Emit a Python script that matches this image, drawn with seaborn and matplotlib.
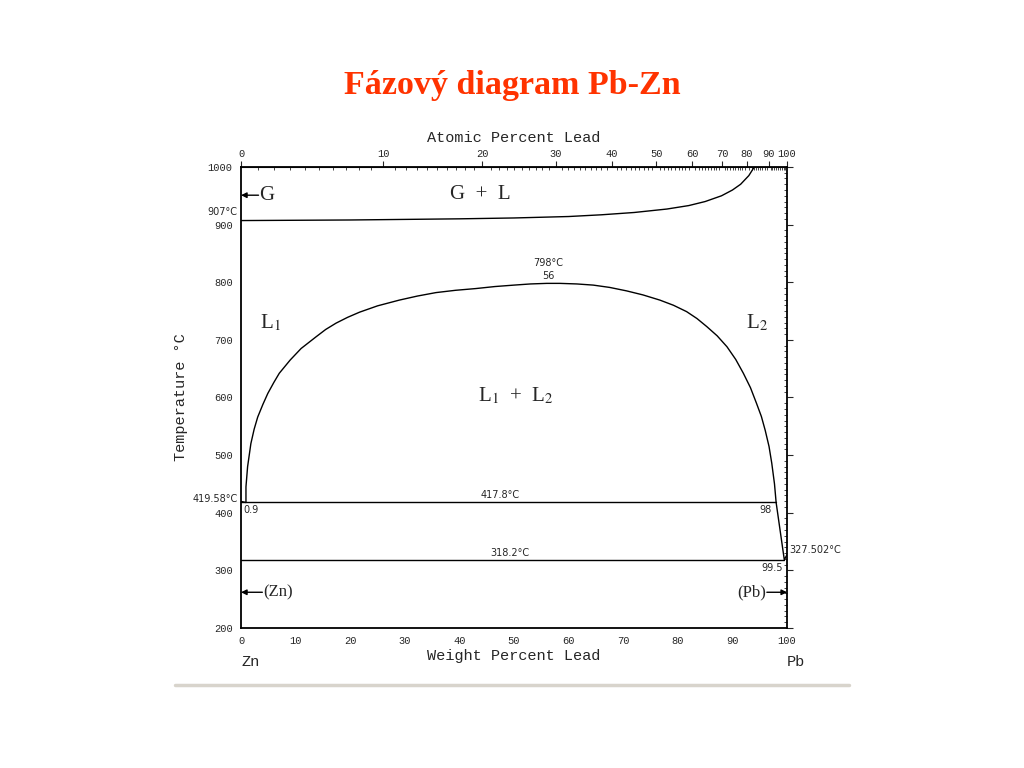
import numpy as np
import matplotlib
matplotlib.use("Agg")
import matplotlib.pyplot as plt
import seaborn as sns
from matplotlib.lines import Line2D
from matplotlib.ticker import MultipleLocator

# Pb-Zn phase diagram (wt% Pb, temperature in C)
gas_wt = [0, 10, 20, 30, 40, 50, 60, 66, 72, 78, 82, 85, 88, 90, 91.5, 93, 94]
gas_t = [907, 907.5, 908, 909, 910, 911.5, 914, 917, 921, 927, 933, 940, 950, 960, 970, 985, 1000]

dome_wt = [0.9, 0.9, 1.2, 1.8, 2.4, 3.05, 4.0, 4.9, 6.0, 7.0, 9.0, 11.0, 13.7, 15.5, 17.4,
           19.5, 21.7, 25, 29, 32.3, 35.7, 39.3, 43, 46.5, 50, 53, 56, 58.4, 61.5, 64.5,
           67.5, 70.6, 73.6, 76.7, 79.2, 81.6, 83.5, 85.3, 87.2, 89, 90.6, 92, 93.3,
           94.4, 95.3, 96, 96.7, 97.2, 97.7, 98]
dome_t = [417.8, 445, 480, 520, 545, 566, 588, 607, 626, 642, 665, 685, 705, 718, 729,
          739, 748, 759, 769, 776, 782, 786, 789, 792.5, 795, 797, 798, 798, 797, 795,
          791, 785, 778, 769, 760, 749, 737, 723, 707, 688, 666, 642, 617,
          590, 567, 543, 515, 486, 450, 417.8]

pb_liq_wt = [98, 99.5, 100]
pb_liq_t = [417.8, 318.2, 327.502]
zn_liq_wt = [0, 0.9]
zn_liq_t = [419.58, 417.8]

monotectic_wt = [0, 98]
monotectic_t = [417.8, 417.8]
eutectic_wt = [0, 99.5]
eutectic_t = [318.2, 318.2]

at_ticks = [0, 10, 20, 30, 40, 50, 60, 70, 80, 90, 100]
M_PB, M_ZN = 207.2, 65.38


def at2wt(a):
    a = np.clip(np.asarray(a, dtype=float), 0, 100) / 100
    return 100 * a * M_PB / (a * M_PB + (1 - a) * M_ZN)


def wt2at(w):
    w = np.clip(np.asarray(w, dtype=float), 0, 100) / 100
    return 100 * (w / M_PB) / (w / M_PB + (1 - w) / M_ZN)


sns.set_style("white")
plt.rcParams["font.family"] = ["DejaVu Sans"]
plt.rcParams["mathtext.fontset"] = "stix"
mono = "Liberation Mono"
serif = "Liberation Serif"

fig = plt.figure(figsize=(10.24, 7.68), dpi=100)
ax = fig.add_axes([0.2354, 0.1823, 0.5332, 0.6003])

kw = dict(color="black", linewidth=1.0, estimator=None, sort=False, ax=ax)
sns.lineplot(x=gas_wt, y=gas_t, **kw)
sns.lineplot(x=dome_wt, y=dome_t, **kw)
sns.lineplot(x=pb_liq_wt, y=pb_liq_t, **kw)
sns.lineplot(x=zn_liq_wt, y=zn_liq_t, **kw)
sns.lineplot(x=monotectic_wt, y=monotectic_t, **kw)
sns.lineplot(x=eutectic_wt, y=eutectic_t, **kw)

ax.set_xlim(0, 100)
ax.set_ylim(200, 1000)
ax.xaxis.set_major_locator(MultipleLocator(10))
ax.xaxis.set_minor_locator(MultipleLocator(1))
ax.yaxis.set_major_locator(MultipleLocator(100))
ax.yaxis.set_minor_locator(MultipleLocator(10))
ax.tick_params(which="major", direction="out", length=4, width=0.8, labelsize=7.5,
               right=True, labelright=False, pad=2)
ax.tick_params(which="minor", direction="in", length=2.5, width=0.6, right=True)
for s in ax.spines.values():
    s.set_linewidth(1.3)
    s.set_color("black")
for lab in ax.get_xticklabels() + ax.get_yticklabels():
    lab.set_family(mono)

ax.set_xlabel("Weight Percent Lead", family=mono, fontsize=11, labelpad=2)
ax.set_ylabel("Temperature °C", family=mono, fontsize=11, labelpad=14)

top = ax.secondary_xaxis("top", functions=(wt2at, at2wt))
top.set_xticks(at_ticks)
top.set_xticks(np.arange(0, 100, 1), minor=True)
top.tick_params(which="major", direction="out", length=4, labelsize=7.5, pad=2)
top.tick_params(which="minor", direction="in", length=2.5, width=0.6)
for lab in top.get_xticklabels():
    lab.set_family(mono)
top.set_xlabel("Atomic Percent Lead", family=mono, fontsize=11, labelpad=5)

# region labels
ax.text(43.8, 953, "G  +  L", family=serif, fontsize=15, ha="center", va="center")
ax.text(3.5, 729, "L$_1$", family=serif, fontsize=15, ha="left", va="center")
ax.text(92.5, 729, "L$_2$", family=serif, fontsize=15, ha="left", va="center")
ax.text(50.4, 602, "L$_1$  +  L$_2$", family=serif, fontsize=15, ha="center", va="center")

# point annotations
small = dict(fontsize=7, family="DejaVu Sans")
ax.text(-0.6, 921, "907°C", ha="right", va="center", **small)
ax.text(-0.6, 424, "419.58°C", ha="right", va="center", **small)
ax.text(0.4, 404, "0.9", ha="left", va="center", **small)
ax.text(97.2, 404, "98", ha="right", va="center", **small)
ax.text(99.2, 304, "99.5", ha="right", va="center", **small)
ax.text(100.5, 335, "327.502°C", ha="left", va="center", **small)
ax.text(47.4, 430, "417.8°C", ha="center", va="center", **small)
ax.text(49.3, 330, "318.2°C", ha="center", va="center", **small)
ax.text(56.2, 833, "798°C", ha="center", va="center", **small)
ax.text(56.2, 811, "56", ha="center", va="center", **small)

arrow = dict(arrowstyle="-|>", color="black", lw=1.0, mutation_scale=8, shrinkA=0, shrinkB=0)
ax.annotate("", xy=(0, 951), xytext=(3.2, 951), arrowprops=arrow)
ax.text(3.4, 951, "G", family=serif, fontsize=15, ha="left", va="center")
ax.annotate("", xy=(0, 262), xytext=(3.9, 262), arrowprops=arrow)
ax.text(4.1, 262, "(Zn)", family=serif, fontsize=12, ha="left", va="center")
ax.annotate("", xy=(100, 262), xytext=(96.3, 262), arrowprops=arrow)
ax.text(96.1, 262, "(Pb)", family=serif, fontsize=12, ha="right", va="center")

fig.text(0.245, 0.138, "Zn", family=mono, fontsize=11, ha="center", va="center")
fig.text(0.777, 0.138, "Pb", family=mono, fontsize=11, ha="center", va="center")

fig.text(0.5, 0.889, "Fázový diagram Pb-Zn", family=serif, fontsize=24.5,
         fontweight="bold", color="#FF3300", ha="center", va="center")
fig.add_artist(Line2D([0.171, 0.829], [0.108, 0.108], color="#d8d4cc", lw=2.5))

fig.savefig("out.png", dpi=100)
